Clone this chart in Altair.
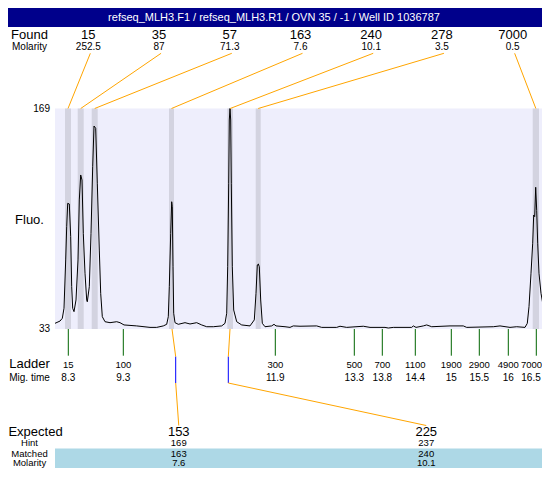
import altair as alt
import pandas as pd

TITLE = "refseq_MLH3.F1 / refseq_MLH3.R1 / OVN 35 / -1 / Well ID 1036787"

# electropherogram trace (position along run, fluorescence)
trace_pos = [0, 5, 7.3, 9, 10.7, 11.7, 12.7, 14.3, 15.7, 16.7, 17.7, 19, 21, 23, 24.3, 25.7, 27, 28.3,
             30, 31.7, 32.3, 34.3, 36, 37.7, 39, 40.7, 42.3, 44.3, 45.7, 47.3, 50, 55, 61.7, 65, 69,
             81.7, 95, 101.7, 108.3, 111.7, 113.3, 114.3, 115.7, 116.7, 117.3, 118, 118.7, 120, 123.3,
             130, 135, 141.7, 146.7, 151.7, 158.3, 166.7, 170, 171.7, 172.7, 173.7, 174.3, 175, 175.7,
             176.3, 177.3, 178.7, 181.7, 186.7, 195, 199.3, 201, 202.3, 203.3, 204.3, 205.7, 207.3, 210,
             216.7, 219, 221, 230, 235, 238.3, 245, 261.7, 266.7, 281.7, 285, 291.7, 308.3, 315, 330,
             333.3, 338.3, 356.7, 358.3, 361, 368.3, 371.7, 376.7, 395, 408.3, 411.7, 438.3, 445, 455,
             461.7, 470, 472.3, 474, 476, 477.7, 478.7, 479.7, 480.7, 481.7, 482.7, 484, 486, 488.3,
             490.7, 492.7, 494.3]
trace_fluo = [36.5, 37.9, 39.6, 45.8, 75.6, 96.1, 110.5, 110.1, 90.0, 59.1, 45.8, 43.7, 50.9, 75.6, 112.6,
              128.0, 124.9, 92.0, 67.4, 50.9, 49.8, 59.1, 92.0, 133.1, 158.2, 156.8, 122.9, 81.7, 55.0,
              40.6, 37.5, 36.9, 37.5, 36.9, 35.5, 34.9, 34.0, 34.0, 34.9, 35.9, 40.6, 59.1, 92.0, 111.5,
              108.4, 71.4, 42.7, 36.9, 35.9, 36.9, 36.1, 36.9, 35.5, 34.4, 34.4, 34.9, 36.5, 42.7, 71.4,
              122.9, 161.9, 169.0, 161.9, 122.9, 71.4, 44.7, 37.5, 35.5, 34.9, 38.6, 55.0, 72.5, 73.1,
              71.4, 50.9, 36.5, 34.4, 34.9, 35.9, 34.9, 34.4, 34.0, 34.9, 34.7, 34.9, 34.0, 34.0, 34.7,
              34.0, 34.7, 34.0, 34.0, 33.6, 34.0, 34.0, 34.9, 34.0, 34.9, 35.5, 34.4, 34.9, 34.9, 34.0,
              34.4, 34.9, 34.0, 34.4, 34.0, 36.5, 46.8, 67.4, 85.9, 103.3, 102.3, 120.4, 106.2, 85.9,
              67.4, 55.0, 46.8, 42.7, 34.4, 30.5]

# found peaks
found_size = ["15", "35", "57", "163", "240", "278", "7000"]
found_molarity = ["252.5", "87", "71.3", "7.6", "10.1", "3.5", "0.5"]
peak_start = [10, 22.7, 36.7, 114, 172.3, 200.7, 477.7]
peak_end = [16, 28.7, 42.7, 119, 178, 205.7, 484]

# ladder
ladder_size = ["15", "100", "300", "500", "700", "1100", "1900", "2900", "4900", "7000"]
ladder_time = ["8.3", "9.3", "11.9", "13.3", "13.8", "14.4", "15", "15.5", "16", "16.5"]
ladder_pos = [13.3, 68.3, 220.3, 299.3, 327.3, 360.3, 396.3, 424.3, 453.3, 481.3]

# expected / matched
expected = ["153", "225"]
hint = ["169", "237"]
matched = ["163", "240"]
matched_molarity = ["7.6", "10.1"]
matched_peak_pos = [117, 175]
matched_ladder_pos = [120.7, 173.3]

y_tick_values = [169, 33]
y_tick_labels = ["169", "33"]

FONT = "Liberation Sans"
W, H = 534, 460
PX0, PX1 = 47, 542          # plot area x range (right end runs past the visible edge)
PY0, PY1 = 100.5, 321       # plot area y range
NAVY = "#00008B"
ORANGE = "#FFA500"
GREEN = "#006400"

X = alt.Scale(domain=[0, 495], range=[PX0, PX1], nice=False, zero=False)
Y = alt.Scale(domain=[33, 169], range=[PY1, PY0], nice=False, zero=False)

one = pd.DataFrame({"k": [0]})

trace_df = pd.DataFrame({"pos": trace_pos, "fluo": trace_fluo})
found_df = pd.DataFrame({"i": list(range(len(found_size))), "size": found_size,
                         "mol": found_molarity, "start": peak_start, "end": peak_end})
ladder_df = pd.DataFrame({"size": ladder_size, "time": ladder_time, "pos": ladder_pos})
exp_df = pd.DataFrame({"i": list(range(len(expected))), "expected": expected, "hint": hint,
                       "matched": matched, "mol": matched_molarity,
                       "peak": matched_peak_pos, "lad": matched_ladder_pos})
ytick_df = pd.DataFrame({"v": y_tick_values, "label": y_tick_labels})


def static_text(txt, x, y, size, align="center", color="black", baseline="alphabetic"):
    return alt.Chart(one).mark_text(text=txt, fontSize=size, align=align, baseline=baseline,
                                    color=color, font=FONT).encode(x=alt.value(x), y=alt.value(y))


layers = []

# title bar
layers.append(alt.Chart(one).mark_rect(color=NAVY).encode(
    x=alt.value(0), x2=alt.value(W), y=alt.value(0), y2=alt.value(19)))
layers.append(static_text(TITLE, 266, 10, 11, color="white", baseline="middle"))

# plot background
layers.append(alt.Chart(one).mark_rect(color="#EEEEFC").encode(
    x=alt.value(PX0), x2=alt.value(W), y=alt.value(PY0), y2=alt.value(PY1)))

# peak bands
layers.append(alt.Chart(found_df).mark_rect(color="#D3D3E0").encode(
    x=alt.X("start:Q", scale=X, axis=None), x2="end:Q",
    y=alt.value(PY0), y2=alt.value(PY1)))

# trace
layers.append(alt.Chart(trace_df).mark_line(color="black", strokeWidth=1).encode(
    x=alt.X("pos:Q", scale=X, axis=None), y=alt.Y("fluo:Q", scale=Y, axis=None)))

# y tick labels
layers.append(alt.Chart(ytick_df).mark_text(align="right", baseline="middle", fontSize=10,
                                            font=FONT, color="black").encode(
    x=alt.value(42), y=alt.Y("v:Q", scale=Y, axis=None), text="label:N"))

# found connectors and labels
found_base = alt.Chart(found_df).transform_calculate(
    slot="(datum.i + 0.5) * 495 / 7", center="(datum.start + datum.end) / 2")
layers.append(found_base.mark_rule(color=ORANGE, strokeWidth=1).encode(
    x=alt.X("slot:Q", scale=X, axis=None), x2="center:Q",
    y=alt.value(45.3), y2=alt.value(PY0)))
layers.append(found_base.mark_text(fontSize=13, font=FONT, dx=-2, baseline="alphabetic").encode(
    x=alt.X("slot:Q", scale=X, axis=None), y=alt.value(31.3), text="size:N"))
layers.append(found_base.mark_text(fontSize=10, font=FONT, dx=-2, baseline="alphabetic").encode(
    x=alt.X("slot:Q", scale=X, axis=None), y=alt.value(42), text="mol:N"))

# ladder ticks and labels (labels kept inside the visible edge)
layers.append(alt.Chart(ladder_df).mark_rule(color=GREEN, strokeWidth=1).encode(
    x=alt.X("pos:Q", scale=X, axis=None), y=alt.value(321), y2=alt.value(347.7)))
ladder_lab = alt.Chart(ladder_df).transform_calculate(
    lx="min(datum.pos, 476.5)", tx="min(datum.pos, 476)")
layers.append(ladder_lab.mark_text(fontSize=9.5, font=FONT, baseline="alphabetic").encode(
    x=alt.X("lx:Q", scale=X, axis=None), y=alt.value(359.5), text="size:N"))
layers.append(ladder_lab.mark_text(fontSize=10, font=FONT, baseline="alphabetic").encode(
    x=alt.X("tx:Q", scale=X, axis=None), y=alt.value(373), text="time:N"))

# matched peak connectors
EXP_Y = 427.5
exp_base = alt.Chart(exp_df).transform_calculate(slot="(datum.i + 0.5) * 495 / 2")
layers.append(exp_base.mark_rule(color=ORANGE).encode(
    x=alt.X("peak:Q", scale=X, axis=None), x2="lad:Q", y=alt.value(321), y2=alt.value(348.7)))
layers.append(exp_base.mark_rule(color="#0000FF").encode(
    x=alt.X("lad:Q", scale=X, axis=None), y=alt.value(348.7), y2=alt.value(375)))
layers.append(exp_base.mark_rule(color=ORANGE).encode(
    x=alt.X("lad:Q", scale=X, axis=None), x2="slot:Q", y=alt.value(375), y2=alt.value(EXP_Y - 10)))

# matched band
layers.append(alt.Chart(one).mark_rect(color="#ADD8E6").encode(
    x=alt.value(PX0), x2=alt.value(W), y=alt.value(440.5), y2=alt.value(H)))

rows = [("expected", EXP_Y, 13), ("hint", 438, 9.5), ("matched", 448.5, 9.5), ("mol", 458, 9.5)]
for field, y, size in rows:
    layers.append(exp_base.mark_text(fontSize=size, font=FONT, baseline="alphabetic").encode(
        x=alt.X("slot:Q", scale=X, axis=None), y=alt.value(y), text=f"{field}:N"))

# left-hand row labels
LX = 21.5
layers += [
    static_text("Found", LX, 31.3, 13),
    static_text("Molarity", LX, 42, 10),
    static_text("Fluo.", LX, 212, 13, baseline="middle"),
    static_text("Ladder", LX, 360.3, 13),
    static_text("Mig. time", LX, 373, 10),
    static_text("Expected", 27.5, EXP_Y, 13),
    static_text("Hint", LX, 438, 9.5),
    static_text("Matched", LX, 448.5, 9.5),
    static_text("Molarity", LX, 458, 9.5),
]

chart = alt.layer(*layers).properties(
    width=W, height=H, padding=0,
    autosize=alt.AutoSizeParams(type="none"),
    background="white",
).configure_view(stroke=None)

chart.save("out.html", embed_options={"renderer": "svg", "actions": False})
